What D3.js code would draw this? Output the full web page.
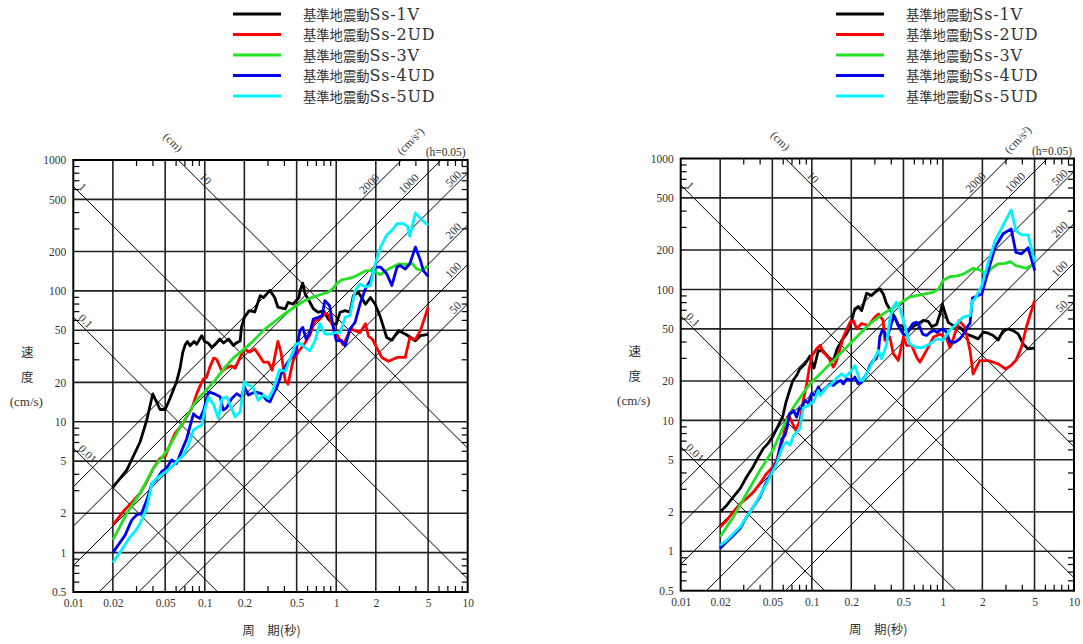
<!DOCTYPE html>
<html><head><meta charset="utf-8">
<script src="https://cdn.jsdelivr.net/npm/d3@7"></script>
<style>
body{margin:0;background:#fff;}
svg{display:block;}
text{font-family:"Liberation Serif","Noto Sans CJK JP",serif;fill:#333;}
</style></head><body>
<svg id="c" width="1083" height="644"></svg>
<script>
// ---------------- data ----------------
const seriesNames = ["基準地震動Ss-1V","基準地震動Ss-2UD","基準地震動Ss-3V","基準地震動Ss-4UD","基準地震動Ss-5UD"];
const seriesColors = ["#000000","#ff0000","#22e022","#0000f0","#00f2ff"];
const xTickLabels = [0.01,0.02,0.05,0.1,0.2,0.5,1,2,5,10];
const yTickLabels = [0.5,1,2,5,10,20,50,100,200,500,1000];
const dispLines = [0.01,0.1,1,10];          // cm
const accLines = [2000,1000,500,200,100,50]; // cm/s2
const dampingLabel = "(h=0.05)";

// left chart: [period (s), velocity (cm/s)]
const leftSs1 = [[0.02,3.15],[0.0255,4.27],[0.0322,7.0],[0.0362,10.3],[0.0402,16.3],[0.0457,12.4],[0.05,12.4],[0.0543,15.0],[0.061,20.2],[0.0649,25.7],[0.068,33.8],[0.0708,38.5],[0.0738,41.1],[0.0773,38.1],[0.0829,41],[0.0867,39],[0.0948,45.4],[0.1,41],[0.106,40],[0.113,37],[0.12,39],[0.13,42.8],[0.139,40],[0.152,42.8],[0.165,38.3],[0.175,40.2],[0.186,41.4],[0.19,52.6],[0.2,62.8],[0.218,70.7],[0.24,69],[0.264,92],[0.28,89],[0.313,100.8],[0.34,89],[0.36,75],[0.41,73],[0.43,81.6],[0.47,79.3],[0.52,89],[0.53,100],[0.556,114.6],[0.58,94.8],[0.61,87],[0.67,73],[0.73,68.6],[0.8,70.7],[0.87,60.9],[0.95,55.7],[1.0,55.7],[1.07,68.6],[1.17,70.6],[1.27,68.6],[1.35,92],[1.47,97.5],[1.56,89],[1.67,79],[1.82,89],[1.98,79],[2.17,62.8],[2.42,44],[2.65,42],[2.98,49.7],[3.45,46],[4.0,41.6],[4.37,45.4],[5.0,46.6]];
const leftSs2 = [[0.02,1.63],[0.024,2.06],[0.0278,2.41],[0.0322,2.84],[0.0362,3.48],[0.0406,4.4],[0.0457,5.25],[0.05,5.46],[0.0543,6.64],[0.0594,8.15],[0.0669,9.42],[0.0729,10.9],[0.0795,12.6],[0.087,16.4],[0.092,18.7],[0.0975,21.2],[0.103,21.8],[0.109,25.9],[0.117,30.6],[0.123,30],[0.135,24.3],[0.147,25.9],[0.16,26.7],[0.17,25.6],[0.186,31.2],[0.2,36],[0.22,34],[0.24,36],[0.264,31.2],[0.28,28.5],[0.305,28.5],[0.326,24.8],[0.34,31],[0.36,41.1],[0.38,34],[0.41,20.5],[0.43,19.4],[0.47,29.3],[0.52,34.8],[0.57,39],[0.63,46],[0.69,59],[0.75,60.8],[0.82,67],[0.87,66],[0.92,57],[0.98,49.7],[1.04,44],[1.13,38.8],[1.2,44],[1.3,51],[1.39,49.7],[1.52,48],[1.67,56],[1.76,45],[1.89,42.5],[2.03,36.9],[2.22,31],[2.5,29],[2.9,31],[3.35,31],[3.63,44],[4.0,42.5],[4.37,49.7],[5.0,75]];
const leftSs3 = [[0.02,1.25],[0.0255,1.99],[0.0322,2.84],[0.0406,4.4],[0.051,5.9],[0.065,9.1],[0.0818,13.4],[0.092,15.6],[0.103,17.5],[0.12,20.8],[0.14,25.5],[0.165,30.8],[0.2,36],[0.234,41.5],[0.286,51],[0.33,57],[0.4,66],[0.47,74],[0.56,83],[0.67,90],[0.8,95],[0.87,97.6],[0.95,105],[1.02,115],[1.1,121.6],[1.2,123.7],[1.35,127.3],[1.52,135],[1.7,143],[1.9,143],[2.17,133],[2.5,147],[2.98,160.6],[3.45,159],[3.76,162.7],[4.1,147],[4.5,143],[5.0,156]];
const leftSs4 = [[0.02,1.0],[0.0248,1.36],[0.0278,1.77],[0.0303,1.94],[0.033,1.99],[0.0362,2.52],[0.0396,3.38],[0.0431,3.63],[0.047,4.15],[0.051,4.4],[0.056,5.1],[0.061,4.8],[0.067,6.07],[0.073,7.45],[0.077,9.15],[0.082,11.5],[0.087,10.9],[0.092,10.6],[0.098,12.2],[0.107,16.9],[0.117,16.4],[0.131,15.5],[0.138,12.3],[0.147,12.8],[0.16,15],[0.175,16.4],[0.19,15.5],[0.2,18.5],[0.215,16],[0.24,16.9],[0.27,16.4],[0.295,14.6],[0.313,14.2],[0.335,16.5],[0.354,18.5],[0.37,20.8],[0.38,23],[0.42,27.7],[0.45,30.4],[0.49,33],[0.53,49.6],[0.556,52.6],[0.59,42.8],[0.63,48],[0.67,61],[0.73,62.8],[0.78,64.7],[0.82,84.3],[0.89,77],[0.95,52.6],[1.0,41.6],[1.1,41.6],[1.17,38],[1.27,51],[1.39,57.5],[1.52,80],[1.67,104],[1.82,120],[1.98,152],[2.17,152],[2.42,135],[2.65,110],[2.9,152],[3.07,156],[3.35,147],[3.63,161],[4.0,216],[4.37,171],[4.6,143],[5.0,129]];
const leftSs5 = [[0.02,0.84],[0.0233,1.05],[0.0271,1.32],[0.0295,1.45],[0.0322,1.67],[0.0362,2.18],[0.0396,3.38],[0.0431,3.69],[0.0484,4.03],[0.0543,4.4],[0.061,4.95],[0.0687,5.56],[0.075,6.64],[0.082,8.65],[0.089,9.15],[0.095,9.42],[0.1,12.3],[0.107,15.5],[0.117,13.4],[0.127,10.6],[0.135,15],[0.147,15.5],[0.16,12.6],[0.17,10.9],[0.186,11.9],[0.2,20.2],[0.215,19],[0.232,18.5],[0.255,14.6],[0.28,16],[0.305,15],[0.33,17.4],[0.35,21],[0.37,25],[0.41,24.3],[0.44,29.3],[0.49,39],[0.53,40],[0.58,37],[0.63,34.8],[0.69,41.6],[0.75,56.5],[0.82,46.8],[0.9,46.8],[0.98,48],[1.07,48],[1.17,62.8],[1.27,64.7],[1.39,100],[1.52,113],[1.67,107],[1.82,110],[1.98,161],[2.17,216],[2.42,266],[2.65,290],[2.9,326],[3.25,326],[3.5,308],[3.63,261],[4.0,394],[4.5,347],[5.0,317]];

// right chart
const rightSs1 = [[0.02,2.0],[0.0224,2.24],[0.0252,2.6],[0.0284,3.01],[0.0318,3.69],[0.0358,4.45],[0.0391,5.25],[0.0426,6.08],[0.0466,6.7],[0.0509,7.67],[0.0556,9.15],[0.06,10.7],[0.0636,13.8],[0.0671,16.4],[0.0715,20],[0.0767,22.1],[0.081,24.7],[0.0887,27],[0.0968,31],[0.104,25.1],[0.112,34],[0.122,34],[0.134,30.3],[0.146,28.6],[0.156,35.1],[0.169,40.6],[0.184,45.7],[0.195,51.4],[0.213,71],[0.226,74],[0.24,68.9],[0.262,93.5],[0.286,89.8],[0.303,95.2],[0.331,101],[0.351,92.4],[0.368,79.8],[0.385,73],[0.406,66.9],[0.431,61.2],[0.457,52.9],[0.484,52.9],[0.513,49.9],[0.544,48.4],[0.594,52],[0.649,55],[0.709,58],[0.773,57],[0.82,52],[0.895,54],[0.95,65],[0.99,77.4],[1.035,66.9],[1.098,56.1],[1.2,52.9],[1.35,51.4],[1.51,45.7],[1.7,43.6],[1.86,41.9],[2.03,47.1],[2.22,46.3],[2.42,44.5],[2.64,41.1],[2.88,48.4],[3.15,49.9],[3.44,48.4],[3.75,45.7],[4.1,38.3],[4.47,35.1],[5.02,35.7]];
const rightSs2 = [[0.02,1.53],[0.0224,1.72],[0.0252,2.0],[0.0284,2.31],[0.0318,2.53],[0.0358,2.83],[0.0402,3.29],[0.0452,3.92],[0.0504,4.4],[0.054,4.95],[0.0572,6.25],[0.06,7.0],[0.0625,8.9],[0.0651,10.6],[0.0669,10.9],[0.0753,8.4],[0.0813,10],[0.086,14.2],[0.0915,19],[0.095,24],[0.1,31],[0.109,35.3],[0.116,37.4],[0.122,33.2],[0.134,30.3],[0.146,25.5],[0.155,28.7],[0.174,43.3],[0.196,56.3],[0.207,58],[0.22,50.1],[0.24,54.9],[0.27,53],[0.303,61.5],[0.322,65],[0.35,58],[0.361,40.8],[0.394,43.3],[0.418,32.3],[0.457,28.7],[0.5,43.3],[0.528,37.4],[0.578,37.4],[0.63,30.3],[0.668,27.8],[0.75,34.2],[0.85,43.3],[0.95,45.6],[1.07,42],[1.13,36],[1.2,42],[1.33,58],[1.47,51.5],[1.61,34.2],[1.7,22.6],[1.91,28.6],[2.22,28.6],[2.64,27],[3.0,24.7],[3.3,26.2],[3.6,28.6],[3.97,36.1],[4.33,51.4],[5.0,82.2]];
const rightSs3 = [[0.02,1.29],[0.0252,1.83],[0.0318,2.76],[0.0402,4.15],[0.0504,5.9],[0.0606,8.9],[0.0725,12.6],[0.086,16.2],[0.097,19],[0.109,21.3],[0.138,27],[0.174,34.2],[0.22,43.3],[0.278,54.9],[0.35,65],[0.441,75.3],[0.556,87.4],[0.7,91.5],[0.85,95.3],[0.93,101],[1.0,117],[1.13,125],[1.28,127],[1.43,131],[1.61,140],[1.7,145],[1.91,141],[2.15,131],[2.35,145],[2.64,157],[3.0,158],[3.27,163],[3.6,152],[4.0,148],[4.33,145],[5.0,157]];
const rightSs4 = [[0.02,1.05],[0.0224,1.18],[0.0252,1.32],[0.0284,1.49],[0.0318,1.83],[0.0358,2.18],[0.0402,2.6],[0.0439,3.19],[0.048,3.8],[0.0525,4.53],[0.0548,4.95],[0.0572,6.25],[0.059,7.2],[0.0624,7.67],[0.065,8.9],[0.0674,11.2],[0.0725,11.9],[0.0767,10.6],[0.0801,12.3],[0.0835,12.3],[0.0886,14.2],[0.094,13.5],[0.0997,16],[0.106,15.5],[0.112,18],[0.119,16.4],[0.126,17.5],[0.138,19],[0.146,18.5],[0.155,19.5],[0.166,20.2],[0.174,19],[0.185,20.8],[0.202,20.2],[0.213,21.4],[0.226,19],[0.24,19.6],[0.262,22.7],[0.278,26.3],[0.295,28.7],[0.31,29.5],[0.322,33.2],[0.33,43.3],[0.345,48.7],[0.36,47.1],[0.37,40.8],[0.405,54.9],[0.42,61.5],[0.44,58],[0.47,50],[0.5,45.6],[0.528,44.5],[0.556,50],[0.59,54.9],[0.63,56.3],[0.668,51.5],[0.7,45.6],[0.75,44.5],[0.8,47.1],[0.85,48.7],[0.9,47.1],[1.0,50],[1.07,47.1],[1.13,39.6],[1.24,39.6],[1.35,42],[1.47,47.1],[1.56,52.9],[1.61,55],[1.68,86],[1.85,90],[1.98,92],[2.22,139],[2.5,210],[2.88,266],[3.32,290],[3.6,192],[3.97,187],[4.47,208],[5.02,139]];
const rightSs5 = [[0.02,1.11],[0.0224,1.21],[0.0252,1.36],[0.0284,1.53],[0.0318,1.83],[0.0358,2.18],[0.0402,2.67],[0.0452,3.29],[0.0494,3.92],[0.054,4.67],[0.0572,5.57],[0.0606,6.45],[0.0643,6.83],[0.0682,6.45],[0.0725,7.67],[0.0767,8.1],[0.081,8.65],[0.086,12.5],[0.094,13],[0.103,13.8],[0.112,16.9],[0.116,15.5],[0.13,18],[0.142,19],[0.155,21],[0.169,22.7],[0.18,21.4],[0.202,24],[0.213,26.3],[0.233,20.2],[0.246,20.2],[0.278,25.5],[0.313,32.2],[0.322,34.2],[0.34,29.5],[0.371,37.4],[0.394,59.8],[0.418,73],[0.441,80],[0.47,71],[0.5,58],[0.528,47.1],[0.556,38.4],[0.63,36],[0.7,36],[0.8,38.4],[0.9,42],[1.0,40.8],[1.13,48.7],[1.28,54.9],[1.43,61.5],[1.61,63],[1.68,82],[1.75,84.5],[1.98,107],[2.22,161],[2.5,236],[2.88,308],[3.32,405],[3.6,282],[3.97,261],[4.47,261],[5.02,161]];

// ---------------- layout ----------------
const panels = [
  {x0:73.3, x1:467.7, y0:160, y1:592, legX:233, series:[leftSs1,leftSs2,leftSs3,leftSs4,leftSs5]},
  {x0:680.7, x1:1074, y0:158.5, y1:590.7, legX:836, series:[rightSs1,rightSs2,rightSs3,rightSs4,rightSs5]}
];
const svg = d3.select("#c");
const TWO_PI = 2*Math.PI;
const fmt = d => String(d);
const minorX = [0.03,0.04,0.06,0.07,0.08,0.09,0.3,0.4,0.6,0.7,0.8,0.9,3,4,6,7,8,9];
const minorY = [0.6,0.7,0.8,0.9,3,4,6,7,8,9,30,40,60,70,80,90,300,400,600,700,800,900];

panels.forEach((p,pi) => {
  const x = d3.scaleLog().domain([0.01,10]).range([p.x0,p.x1]);
  const y = d3.scaleLog().domain([0.5,1000]).range([p.y1,p.y0]);
  const g = svg.append("g");
  const cid = "clip"+pi;
  g.append("clipPath").attr("id",cid).append("rect")
    .attr("x",p.x0).attr("y",p.y0).attr("width",p.x1-p.x0).attr("height",p.y1-p.y0);

  // major grid
  const gx = [0.02,0.05,0.1,0.2,0.5,1,2,5];
  const gy = [1,2,5,10,20,50,100,200,500];
  g.selectAll(".vg").data(gx).join("line")
    .attr("x1",d=>x(d)).attr("x2",d=>x(d)).attr("y1",p.y0).attr("y2",p.y1)
    .attr("stroke","#222").attr("stroke-width",1.6);
  g.selectAll(".hg").data(gy).join("line")
    .attr("y1",d=>y(d)).attr("y2",d=>y(d)).attr("x1",p.x0).attr("x2",p.x1)
    .attr("stroke","#222").attr("stroke-width",1.6);

  // tripartite diagonals
  const diag = g.append("g").attr("clip-path",`url(#${cid})`);
  dispLines.forEach(sd => {
    diag.append("line")
      .attr("x1",x(0.01)).attr("y1",y(TWO_PI*sd/0.01))
      .attr("x2",x(10)).attr("y2",y(TWO_PI*sd/10))
      .attr("stroke","#000").attr("stroke-width",1);
  });
  accLines.forEach(sa => {
    diag.append("line")
      .attr("x1",x(0.01)).attr("y1",y(sa*0.01/TWO_PI))
      .attr("x2",x(10)).attr("y2",y(sa*10/TWO_PI))
      .attr("stroke","#000").attr("stroke-width",1);
  });

  // minor ticks (inward) via axes
  const tickStyle = sel => { sel.select(".domain").remove(); sel.selectAll("line").attr("stroke","#000").attr("stroke-width",1.2); sel.selectAll("text").remove(); };
  g.append("g").attr("transform",`translate(0,${p.y1})`)
    .call(d3.axisBottom(x).tickValues(minorX).tickSize(-6).tickFormat("")).call(tickStyle);
  g.append("g").attr("transform",`translate(0,${p.y0})`)
    .call(d3.axisTop(x).tickValues(minorX).tickSize(-6).tickFormat("")).call(tickStyle);
  g.append("g").attr("transform",`translate(${p.x0},0)`)
    .call(d3.axisLeft(y).tickValues(minorY).tickSize(-6).tickFormat("")).call(tickStyle);
  g.append("g").attr("transform",`translate(${p.x1},0)`)
    .call(d3.axisRight(y).tickValues(minorY).tickSize(-6).tickFormat("")).call(tickStyle);

  // data
  const line = d3.line().x(d=>x(d[0])).y(d=>y(d[1]));
  const dg = g.append("g").attr("clip-path",`url(#${cid})`);
  p.series.forEach((s,i) => {
    dg.append("path").attr("d",line(s)).attr("fill","none")
      .attr("stroke",seriesColors[i]).attr("stroke-width",2.8)
      .attr("stroke-linejoin","round");
  });

  // frame
  g.append("rect").attr("x",p.x0).attr("y",p.y0).attr("width",p.x1-p.x0).attr("height",p.y1-p.y0)
    .attr("fill","none").attr("stroke","#000").attr("stroke-width",2);

  // tick labels
  const ax = g.append("g").attr("transform",`translate(0,${p.y1})`)
    .call(d3.axisBottom(x).tickValues(xTickLabels).tickFormat(fmt).tickSize(0).tickPadding(7));
  ax.select(".domain").remove();
  ax.selectAll("text").attr("font-size",11.5).attr("fill","#333").style("font-family","Liberation Serif");
  const ay = g.append("g").attr("transform",`translate(${p.x0},0)`)
    .call(d3.axisLeft(y).tickValues(yTickLabels).tickFormat(fmt).tickSize(0).tickPadding(7));
  ay.select(".domain").remove();
  ay.selectAll("text").attr("font-size",11.5).attr("fill","#333").style("font-family","Liberation Serif");

  // labels on displacement lines (rotate +45)
  const off = 2.2, s2 = Math.SQRT1_2;
  dispLines.forEach(sd => {
    let xs;
    const xTop = x(TWO_PI*sd/1000);
    if (xTop > p.x0) xs = xTop + 19; else xs = p.x0 + 3;
    const T = x.invert(xs);
    const ys = y(TWO_PI*sd/T);
    g.append("text").text(fmt(sd))
      .attr("transform",`translate(${xs+off*s2},${ys-off*s2}) rotate(45)`)
      .attr("font-size",11.5).attr("fill","#333");
  });
  // labels on acceleration lines (rotate -45)
  accLines.forEach(sa => {
    const xTop = x(1000*TWO_PI/sa);
    let xe = xTop < p.x1 ? xTop - 20 : p.x1 - 4;
    const T = x.invert(xe);
    const ye = y(sa*T/TWO_PI);
    g.append("text").text(fmt(sa)).attr("text-anchor","end")
      .attr("transform",`translate(${xe-off*s2},${ye-off*s2}) rotate(-45)`)
      .attr("font-size",11.5).attr("fill","#333");
  });
  // unit labels
  g.append("text").text("(cm)").attr("text-anchor","middle")
    .attr("transform",`translate(${p.x0+97},${p.y0-15}) rotate(45)`)
    .attr("font-size",11.5).attr("fill","#333");
  const u = g.append("text").attr("text-anchor","middle")
    .attr("transform",`translate(${p.x0+340},${p.y0-16}) rotate(-45)`)
    .attr("font-size",11.5).attr("fill","#333");
  u.append("tspan").text("(cm/s");
  u.append("tspan").attr("font-size",7).attr("dy",-4).text("2");
  u.append("tspan").attr("dy",4).text(")");
  g.append("text").text(dampingLabel).attr("text-anchor","end")
    .attr("x",p.x1-2).attr("y",p.y0-4).attr("font-size",11.5).attr("fill","#333");

  // axis titles
  const cx = p.x0 - 46;
  g.append("text").text("速").attr("x",cx).attr("y",p.y0+197).attr("text-anchor","middle")
    .attr("font-size",12.5).style("font-family","Noto Sans CJK JP").attr("fill","#333");
  g.append("text").text("度").attr("x",cx).attr("y",p.y0+222).attr("text-anchor","middle")
    .attr("font-size",12.5).style("font-family","Noto Sans CJK JP").attr("fill","#333");
  g.append("text").text("(cm/s)").attr("x",cx-1).attr("y",p.y0+246).attr("text-anchor","middle")
    .attr("font-size",13).attr("fill","#333");
  g.append("text").text("周　期(秒)").attr("x",(p.x0+p.x1)/2+1).attr("y",p.y1+43).attr("text-anchor","middle")
    .attr("font-size",12.5).style("font-family","Noto Sans CJK JP").attr("fill","#333");

  // legend
  seriesNames.forEach((n,i) => {
    const ly = 14 + i*20.5;
    g.append("line").attr("x1",p.legX).attr("x2",p.legX+48).attr("y1",ly).attr("y2",ly)
      .attr("stroke",seriesColors[i]).attr("stroke-width",3.2);
    const t = g.append("text").attr("x",p.legX+70).attr("y",ly+5.5).attr("fill","#333");
    t.append("tspan").text(n.slice(0,5)).attr("font-size",13.3).style("font-family","Noto Sans CJK JP");
    t.append("tspan").text(n.slice(5)).attr("font-size",16).style("letter-spacing","0.8px").style("font-family","DejaVu Serif");
  });
});
</script>
</body></html>
